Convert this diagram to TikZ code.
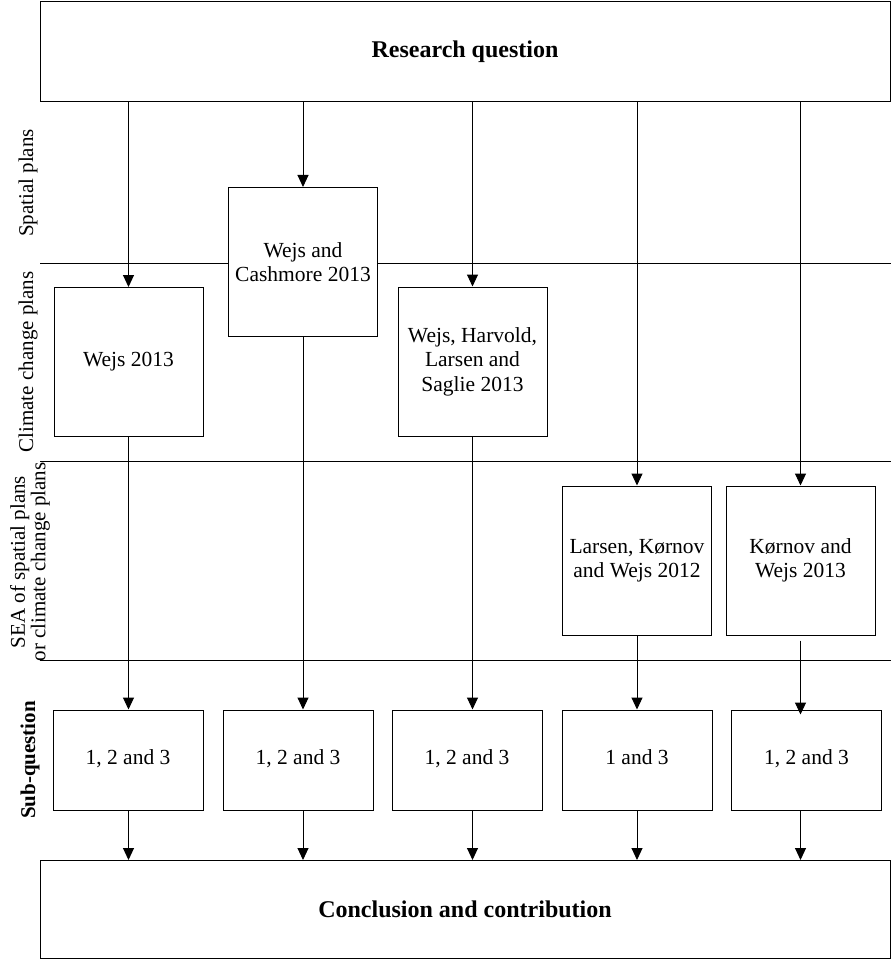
\documentclass[tikz,border=0pt]{standalone}
\usepackage{fontspec}
\setmainfont{Liberation Serif}
\usetikzlibrary{arrows.meta,positioning}

\begin{document}
\begin{tikzpicture}[x=1pt,y=-1pt,
  box/.style={draw, line width=1pt, fill=white, align=center, inner sep=2pt,
    font=\fontsize{21.5}{24.5}\selectfont},
  paper/.style={box, minimum width=149pt, minimum height=149pt},
  subbox/.style={box, minimum width=150pt, minimum height=100pt,
    text height=2.2ex, text depth=0.3ex},
  wide/.style={box, minimum width=850pt, minimum height=100pt,
    font=\fontsize{24}{27}\selectfont\bfseries},
  rowlabel/.style={rotate=90, align=center, font=\fontsize{21}{20.5}\selectfont},
  flow/.style={line width=1pt, -{Triangle[length=12pt,width=11pt]}},
  divider/.style={line width=1pt}]
\useasboundingbox (0,0) rectangle (891,960);

% Row dividers
\foreach \y in {263,461,660}
  \draw[divider] (40,\y) -- (891,\y);

% Research question and conclusion
\node[wide] (rq) at (465,52) {Research question};
\node[wide, minimum height=98pt] (cc) at (465,909.5) {Conclusion and contribution};

% Papers
\node[paper] (p1) at (128.5,362) {Wejs 2013};
\node[paper] (p2) at (303,262) {Wejs and\\Cashmore 2013};
\node[paper] (p3) at (472.5,361.5) {Wejs, Harvold,\\Larsen and\\Saglie 2013};
\node[paper] (p4) at (637,560.5) {Larsen, Kørnov\\and Wejs 2012};
\node[paper] (p5) at (800.5,560.5) {Kørnov and\\Wejs 2013};

% Sub-questions
\node[subbox] (s1) at (128,760) {1, 2 and 3};
\node[subbox] (s2) at (298,760) {1, 2 and 3};
\node[subbox] (s3) at (467,760) {1, 2 and 3};
\node[subbox] (s4) at (637,760) {1 and 3};
\node[subbox] (s5) at (806.5,760) {1, 2 and 3};

% Row labels
\node[rowlabel] (lspatial) at (28,183) {Spatial plans};
\node[rowlabel] (lclimate) at (28,362) {Climate change plans};
\node[rowlabel] (lsea) at (30,562) {SEA of spatial plans\\or climate change plans};
\node[rowlabel, font=\fontsize{21}{24}\selectfont\bfseries] (lsub) at (30,760) {Sub-question};

% Arrows
\foreach \p in {p1,p2,p3,p4,p5}
  \draw[flow] (rq.south -| \p) -- (\p.north);
\foreach \p/\s in {p1/s1,p2/s2,p3/s3,p4/s4}
  \draw[flow] (\p.south) -- (\p.south |- \s.north);
\draw[flow, shorten <=5pt, shorten >=-5pt] (p5.south) -- (p5.south |- s5.north);
\foreach \p/\s in {p1/s1,p2/s2,p3/s3,p4/s4,p5/s5}
  \draw[flow] (\p.south |- \s.south) -- (\p.south |- cc.north);
\end{tikzpicture}
\end{document}
